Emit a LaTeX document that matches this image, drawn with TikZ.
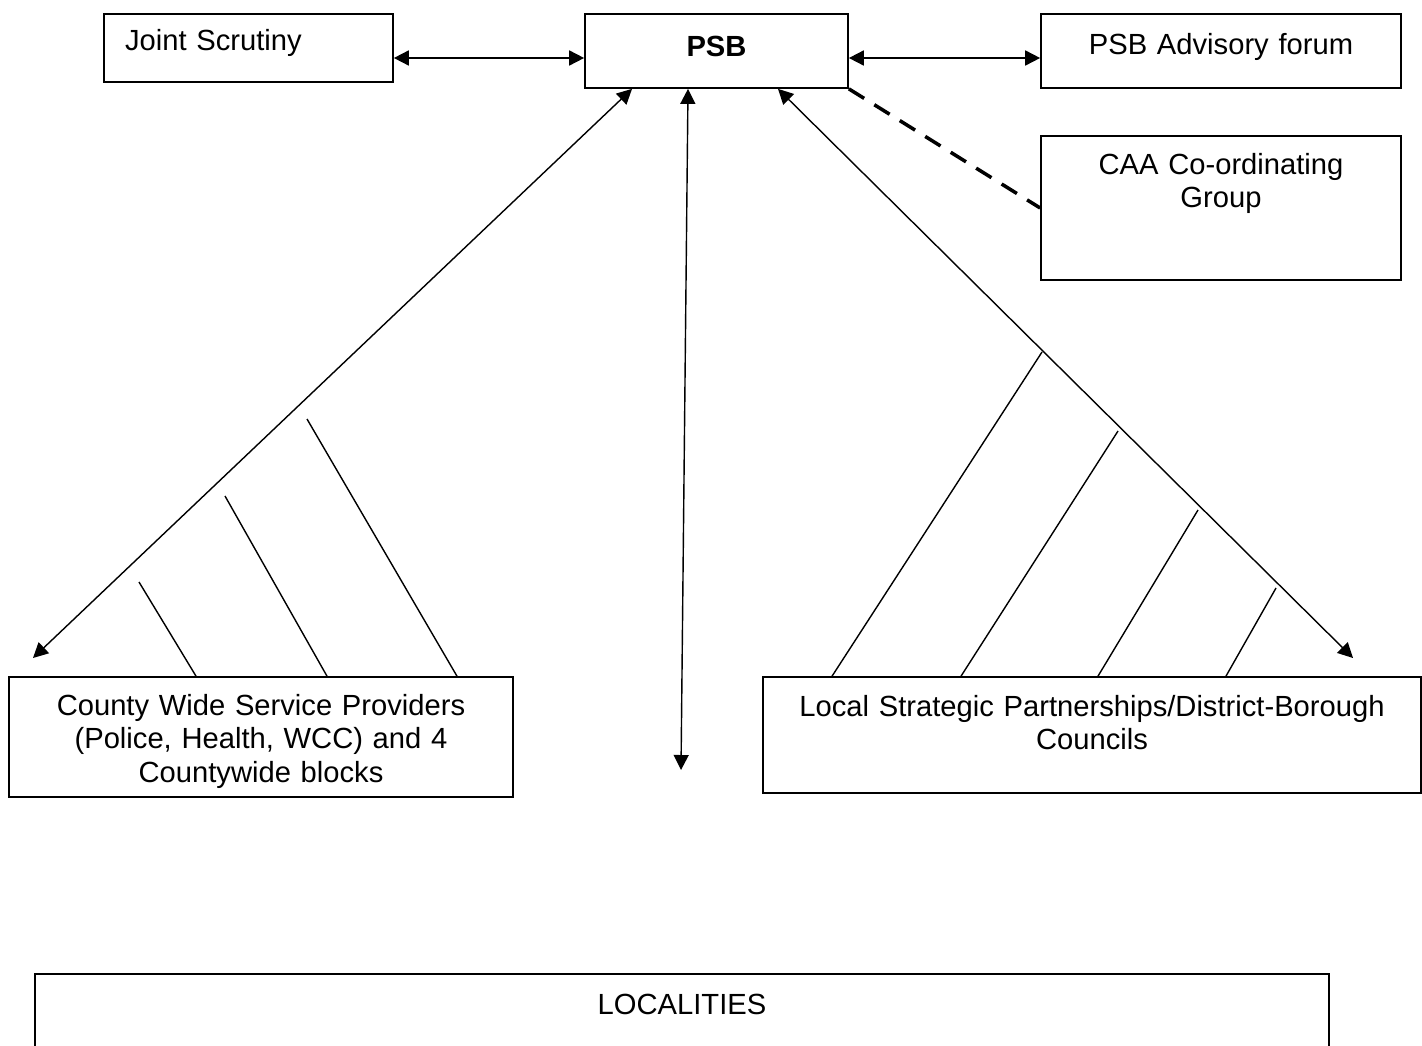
\documentclass[tikz,border=0pt]{standalone}
\usepackage{fontspec}
\setmainfont{Liberation Sans}
\usetikzlibrary{arrows.meta}
\tikzset{
  box/.style={draw, line width=1pt, inner sep=0pt, align=center, font=\fontsize{16.6}{19.3}\selectfont},
  dblarrow/.style={{Triangle[length=0.3cm,width=0.3cm]}-{Triangle[length=0.3cm,width=0.3cm]}, line width=1pt},
  link/.style={line width=0.8pt},
  dashlink/.style={line width=2pt, dash pattern=on 0.36cm off 0.24cm}
}
\begin{document}
\begin{tikzpicture}[x=0.02cm, y=-0.02cm]
  \clip (0,0) rectangle (1422,1045);

  % Caixas do topo
  \node[box, align=left, inner xsep=0.42cm, text width=4.94cm, text height=0.72cm, text depth=0.64cm] (js) at (248.5,48) {Joint Scrutiny};
  \node[box, text width=5.26cm, text height=0.84cm, text depth=0.64cm] (psb) at (716.5,51) {\bfseries PSB};
  \node[box, text width=7.2cm, text height=0.8cm, text depth=0.68cm] (adv) at (1221,51) {PSB Advisory forum};
  \node[box, text width=7.2cm, text height=0.76cm, text depth=2.12cm] (caa) at (1221,208) {CAA Co-ordinating\\Group};

  % Caixas de baixo
  \node[box, text width=10.08cm, text height=0.76cm, text depth=1.64cm] (cw) at (261,737) {County Wide Service Providers\\(Police, Health, WCC) and 4\\Countywide blocks};
  \node[box, text width=13.16cm, text height=0.78cm, text depth=1.54cm] (lsp) at (1092,735) {Local Strategic Partnerships/District-Borough\\Councils};
  \node[box, text width=25.88cm, text height=0.8cm, text depth=1.12cm] (loc) at (682,1022) {LOCALITIES};

  % Pontas livres das setas
  \coordinate (cwtip) at (33,658);
  \coordinate (midtip) at (681,770);
  \coordinate (lsptip) at (1353,658);

  % Setas horizontais e tracejado
  \draw[dblarrow] ([yshift=-0.2cm]js.east) -- ([yshift=-0.14cm]psb.west);
  \draw[dblarrow] ([yshift=-0.14cm]psb.east) -- ([yshift=-0.14cm]adv.west);
  \draw[dashlink] (psb.south east) -- (caa.west);

  % Setas diagonais
  \draw[dblarrow, link] ([xshift=-1.69cm]psb.south) -- (cwtip);
  \draw[dblarrow, link] ([xshift=-0.57cm]psb.south) -- (midtip);
  \draw[dblarrow, link] ([xshift=1.23cm]psb.south) -- (lsptip);

  % Linhas ligando as caixas
  \coordinate (cwa) at (139,582);
  \coordinate (cwb) at (225,496);
  \coordinate (cwc) at (307,419);
  \coordinate (lspa) at (1042,352);
  \coordinate (lspb) at (1118,431);
  \coordinate (lspc) at (1198,510);
  \coordinate (lspd) at (1276,588);
  \foreach \dx/\c in {-1.3cm/cwa, 1.32cm/cwb, 3.92cm/cwc}
    \draw[link] ([xshift=\dx]cw.north) -- (\c);
  \foreach \dx/\c in {-5.2cm/lspa, -2.62cm/lspb, 0.12cm/lspc, 2.68cm/lspd}
    \draw[link] ([xshift=\dx]lsp.north) -- (\c);
\end{tikzpicture}
\end{document}
